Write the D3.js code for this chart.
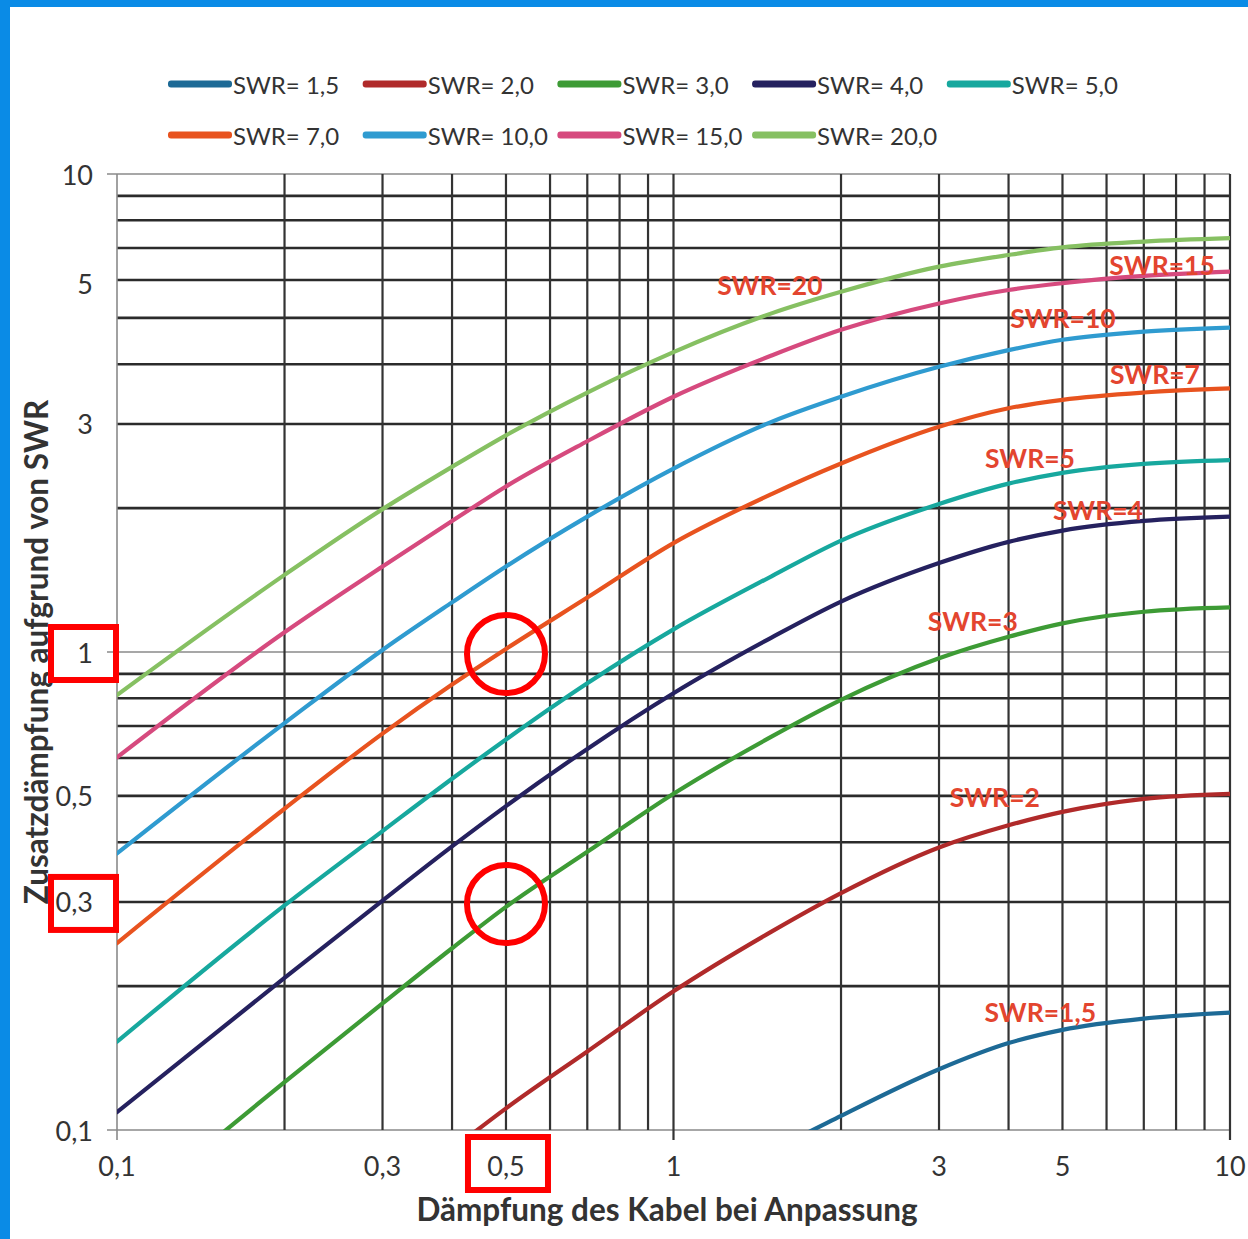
<!DOCTYPE html>
<html>
<head>
<meta charset="utf-8">
<script src="https://cdn.jsdelivr.net/npm/d3@7"></script>
<style>
  body { margin: 0; background: #fff; }
  svg { display: block; }
</style>
</head>
<body>
<script>
// attenuation of the cable when matched (dB), shared by every curve
var xs = [0.1, 0.2, 0.3, 0.4, 0.5, 0.7, 1, 1.5, 2, 3, 4, 5, 7, 10];

// additional loss because of SWR (dB); null = not on chart
var swr1_5 = [null, null, null, null, null, null, 0.066, 0.09, 0.107, 0.134, 0.152, 0.162, 0.171, 0.176];
var swr2   = [null, null, 0.0695, 0.091, 0.111, 0.146, 0.195, 0.26, 0.313, 0.39, 0.434, 0.463, 0.493, 0.505];
var swr3   = [0.065, 0.126, 0.184, 0.24, 0.293, 0.382, 0.505, 0.665, 0.794, 0.97, 1.076, 1.148, 1.214, 1.24];
var swr4   = [0.109, 0.208, 0.302, 0.392, 0.476, 0.627, 0.82, 1.072, 1.275, 1.535, 1.70, 1.795, 1.88, 1.919];
var swr5   = [0.153, 0.295, 0.422, 0.543, 0.656, 0.86, 1.115, 1.44, 1.71, 2.04, 2.25, 2.37, 2.475, 2.52];
var swr7   = [0.246, 0.47, 0.675, 0.855, 1.015, 1.30, 1.69, 2.14, 2.48, 2.96, 3.235, 3.37, 3.49, 3.56];
var swr10  = [0.379, 0.71, 1.01, 1.27, 1.51, 1.92, 2.42, 3.03, 3.42, 3.95, 4.28, 4.50, 4.68, 4.77];
var swr15  = [0.602, 1.10, 1.51, 1.88, 2.22, 2.76, 3.42, 4.17, 4.72, 5.36, 5.72, 5.91, 6.12, 6.25];
var swr20  = [0.813, 1.45, 1.99, 2.44, 2.84, 3.49, 4.24, 5.11, 5.67, 6.40, 6.77, 7.02, 7.22, 7.34];

var seriesNames = ["SWR= 1,5", "SWR= 2,0", "SWR= 3,0", "SWR= 4,0", "SWR= 5,0",
                   "SWR= 7,0", "SWR= 10,0", "SWR= 15,0", "SWR= 20,0"];
var seriesValues = [swr1_5, swr2, swr3, swr4, swr5, swr7, swr10, swr15, swr20];
var seriesColors = ["#1d6a96", "#b02a2a", "#3d9b35", "#25215f", "#17a89e",
                    "#e8531f", "#2f9bd0", "#d64a7e", "#86c062"];

// red labels written on the curves, anchored in data units
var curveLabels = ["SWR=20", "SWR=15", "SWR=10", "SWR=7", "SWR=5", "SWR=4", "SWR=3", "SWR=2", "SWR=1,5"];
var curveLabelX = [1.49, 7.55, 5.01, 7.33, 4.37, 5.79, 3.45, 3.78, 4.56];
var curveLabelY = [5.86, 6.45, 5.0, 3.82, 2.55, 1.98, 1.16, 0.497, 0.1766];

// tick labels (the source prints its "5" up near the 6 line)
var yTickPos = [10, 5.9, 3, 1, 0.5, 0.3, 0.1];
var yTickText = ["10", "5", "3", "1", "0,5", "0,3", "0,1"];
var xTickPos = [0.1, 0.3, 0.5, 1, 3, 5, 10];
var xTickText = ["0,1", "0,3", "0,5", "1", "3", "5", "10"];

// red highlight marks
var markedY = [1, 0.3];
var markedX = [0.5];
var circleX = [0.5, 0.5];
var circleY = [1, 0.3];

var W = 1248, H = 1239;
var pL = 117, pR = 1230, pT = 174, pB = 1130;
var font = "Lato, 'Open Sans', sans-serif";

var svg = d3.select("body").append("svg").attr("width", W).attr("height", H);

// blue frame of the screenshot
svg.append("rect").attr("x", 0).attr("y", 0).attr("width", W).attr("height", 7).attr("fill", "#0a8be6");
svg.append("rect").attr("x", 0).attr("y", 0).attr("width", 10).attr("height", H).attr("fill", "#0a8be6");

var x = d3.scaleLog().domain([0.1, 10]).range([pL, pR]);
var y = d3.scaleLog().domain([0.1, 10]).range([pB, pT]);

var isDecade = function (v) {
    var l = Math.log10(v);
    return Math.abs(l - Math.round(l)) < 1e-6;
};

// grid
var grid = svg.append("g");
grid.selectAll(".hg").data(y.ticks()).enter().append("line")
    .attr("x1", function (d) { return isDecade(d) ? pL - 10 : pL; })
    .attr("x2", pR)
    .attr("y1", function (d) { return y(d); })
    .attr("y2", function (d) { return y(d); })
    .attr("stroke", function (d) { return isDecade(d) ? "#8a8a8a" : "#2b2b2b"; })
    .attr("stroke-width", function (d) { return isDecade(d) ? 1.6 : 2.6; });

grid.selectAll(".vg").data(x.ticks()).enter().append("line")
    .attr("x1", function (d) { return x(d); })
    .attr("x2", function (d) { return x(d); })
    .attr("y1", pT)
    .attr("y2", function (d) { return isDecade(d) ? pB + 10 : pB; })
    .attr("stroke", function (d) { return d === 0.1 ? "#8a8a8a" : "#333"; })
    .attr("stroke-width", function (d) { return d === 0.1 ? 1.6 : 2.2; });

// curves
svg.append("clipPath").attr("id", "plot").append("rect")
    .attr("x", pL).attr("y", pT).attr("width", pR - pL).attr("height", pB - pT);

var line = d3.line()
    .defined(function (d) { return d[1] !== null; })
    .x(function (d) { return x(d[0]); })
    .y(function (d) { return y(d[1]); })
    .curve(d3.curveMonotoneX);

svg.append("g").attr("clip-path", "url(#plot)")
    .selectAll("path").data(seriesValues).enter().append("path")
    .attr("d", function (vals) { return line(xs.map(function (v, i) { return [v, vals[i]]; })); })
    .attr("fill", "none")
    .attr("stroke", function (d, i) { return seriesColors[i]; })
    .attr("stroke-width", 4.2)
    .attr("stroke-linecap", "round");

// curve labels
svg.append("g").selectAll("text").data(curveLabels).enter().append("text")
    .attr("x", function (d, i) { return x(curveLabelX[i]); })
    .attr("y", function (d, i) { return y(curveLabelY[i]); })
    .attr("text-anchor", "middle")
    .attr("dominant-baseline", "central")
    .attr("font-family", font)
    .attr("font-weight", "bold")
    .attr("font-size", 26.5)
    .attr("fill", "#e3452f")
    .text(function (d) { return d; });

// tick labels
svg.append("g").selectAll("text").data(yTickText).enter().append("text")
    .attr("x", 93)
    .attr("y", function (d, i) { return y(yTickPos[i]); })
    .attr("text-anchor", "end")
    .attr("dominant-baseline", "central")
    .attr("font-family", font).attr("font-size", 27).attr("fill", "#333")
    .text(function (d) { return d; });

svg.append("g").selectAll("text").data(xTickText).enter().append("text")
    .attr("x", function (d, i) { return x(xTickPos[i]); })
    .attr("y", 1165)
    .attr("text-anchor", "middle")
    .attr("dominant-baseline", "central")
    .attr("font-family", font).attr("font-size", 27).attr("fill", "#333")
    .text(function (d) { return d; });

// axis titles
svg.append("text")
    .attr("x", 667).attr("y", 1209)
    .attr("text-anchor", "middle").attr("dominant-baseline", "central")
    .attr("font-family", font).attr("font-weight", "bold").attr("font-size", 31.5).attr("fill", "#333")
    .text("Dämpfung des Kabel bei Anpassung");

svg.append("text")
    .attr("transform", "translate(36," + y(1) + ") rotate(-90)")
    .attr("text-anchor", "middle").attr("dominant-baseline", "central")
    .attr("font-family", font).attr("font-weight", "bold").attr("font-size", 31.5).attr("fill", "#333")
    .text("Zusatzdämpfung aufgrund von SWR");

// legend, two rows
var legend = svg.append("g");
var item = legend.selectAll("g").data(seriesNames).enter().append("g")
    .attr("transform", function (d, i) {
        return "translate(" + (168 + (i % 5) * 194.7) + "," + (i < 5 ? 84 : 135) + ")";
    });
item.append("rect")
    .attr("x", 0).attr("y", -3.5).attr("width", 64).attr("height", 7).attr("rx", 3)
    .attr("fill", function (d, i) { return seriesColors[i]; });
item.append("text")
    .attr("x", 65).attr("y", 0)
    .attr("dominant-baseline", "central")
    .attr("font-family", font).attr("font-size", 24).attr("fill", "#333")
    .text(function (d) { return d; });

// red highlights
var marks = svg.append("g").attr("fill", "none").attr("stroke", "#ff0000").attr("stroke-width", 6);
marks.selectAll(".by").data(markedY).enter().append("rect")
    .attr("x", 51).attr("width", 65)
    .attr("y", function (d) { return y(d) - 25; }).attr("height", 53);
marks.selectAll(".bx").data(markedX).enter().append("rect")
    .attr("x", function (d) { return x(d) - 38; }).attr("width", 80)
    .attr("y", 1137).attr("height", 53);
marks.selectAll("circle").data(circleX).enter().append("circle")
    .attr("cx", function (d) { return x(d); })
    .attr("cy", function (d, i) { return y(circleY[i]) + 2; })
    .attr("r", 39);
</script>
</body>
</html>
